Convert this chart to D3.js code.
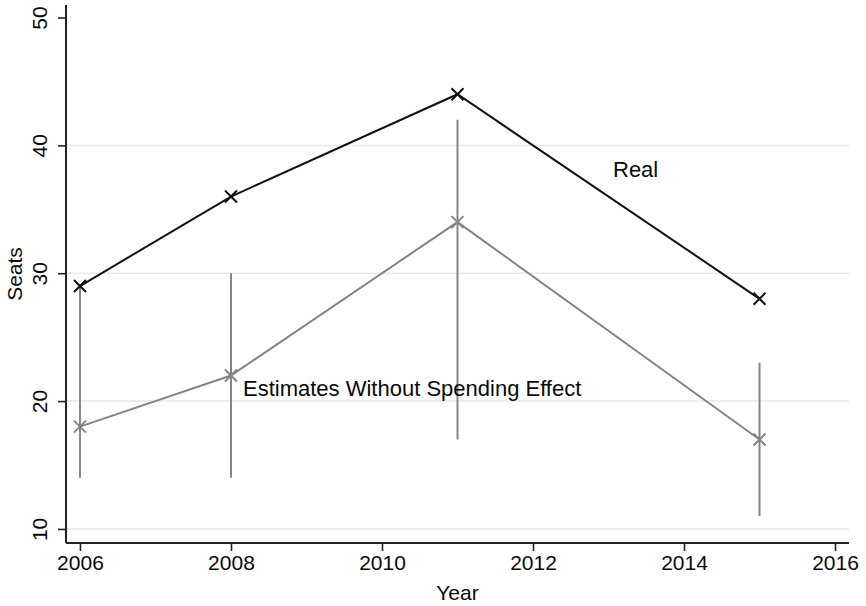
<!DOCTYPE html>
<html>
<head>
<meta charset="utf-8">
<script src="https://cdn.jsdelivr.net/npm/d3@7"></script>
<style>
  html, body { margin: 0; padding: 0; background: #fff; }
  svg { display: block; font-family: "Liberation Sans", Arial, Helvetica, sans-serif; }
</style>
</head>
<body>
<svg id="chart" width="866" height="606"></svg>
<script>
// Election years
const years = [2006, 2008, 2011, 2015];
// Seats actually won
const realSeats = [29, 36, 44, 28];
// Counterfactual estimates with their confidence interval bounds
const estSeats = [18, 22, 34, 17];
const estLower = [14, 14, 17, 11];
const estUpper = [29, 30, 42, 23];
// Axis ticks
const xTicks = [2006, 2008, 2010, 2012, 2014, 2016];
const yTicks = [10, 20, 30, 40, 50];
const gridTicks = [10, 20, 30, 40];

const svg = d3.select("#chart");
const plotLeft = 66, plotRight = 849, plotTop = 5, plotBottom = 543;

const x = d3.scaleLinear().domain([2005.815, 2016.185]).range([plotLeft, plotRight]);
const y = d3.scaleLinear().domain([8.9, 50.98]).range([plotBottom, plotTop]);

const fontSize = 21;
const ink = "#0a0a0a";

// Horizontal gridlines
svg.append("g").selectAll("line").data(gridTicks).join("line")
  .attr("x1", plotLeft).attr("x2", plotRight)
  .attr("y1", d => y(d)).attr("y2", d => y(d))
  .attr("stroke", "#e9e9e9").attr("stroke-width", 1.5);

// X axis
const xAxis = svg.append("g")
  .attr("transform", `translate(0,${plotBottom})`)
  .call(d3.axisBottom(x).tickValues(xTicks).tickFormat(d3.format("d")).tickSize(8).tickPadding(4));
xAxis.select(".domain").attr("d", `M${plotLeft},0H${plotRight}`).attr("stroke", "#222").attr("stroke-width", 2);
xAxis.selectAll(".tick line").attr("stroke", "#222").attr("stroke-width", 1.6);
xAxis.selectAll(".tick text").attr("font-size", fontSize).attr("fill", ink)
  .attr("font-family", "Liberation Sans, Arial, sans-serif");

// Y axis with rotated tick labels
const yAxis = svg.append("g")
  .attr("transform", `translate(${plotLeft},0)`)
  .call(d3.axisLeft(y).tickValues(yTicks).tickSize(8).tickPadding(4));
yAxis.select(".domain").attr("d", `M0,${plotTop}V${plotBottom}`).attr("stroke", "#222").attr("stroke-width", 2);
yAxis.selectAll(".tick line").attr("stroke", "#222").attr("stroke-width", 1.6);
yAxis.selectAll(".tick text")
  .attr("font-size", fontSize).attr("fill", ink)
  .attr("font-family", "Liberation Sans, Arial, sans-serif")
  .attr("x", null).attr("dy", null)
  .attr("text-anchor", "middle")
  .attr("transform", "translate(-19,0) rotate(-90)");

// Axis titles
svg.append("text")
  .attr("x", (plotLeft + plotRight) / 2).attr("y", 600)
  .attr("text-anchor", "middle").attr("font-size", fontSize).attr("fill", ink)
  .text("Year");
svg.append("text")
  .attr("transform", `translate(22,${(plotTop + plotBottom) / 2}) rotate(-90)`)
  .attr("text-anchor", "middle").attr("font-size", fontSize).attr("fill", ink)
  .text("Seats");

const grey = "#858585";

// Confidence interval spikes
svg.append("g").selectAll("line").data(years).join("line")
  .attr("x1", d => x(d)).attr("x2", d => x(d))
  .attr("y1", (d, i) => y(estLower[i])).attr("y2", (d, i) => y(estUpper[i]))
  .attr("stroke", grey).attr("stroke-width", 2);

const line = d3.line().x(d => x(d[0])).y(d => y(d[1]));

// Estimates line
svg.append("path")
  .datum(years.map((d, i) => [d, estSeats[i]]))
  .attr("d", line).attr("fill", "none")
  .attr("stroke", grey).attr("stroke-width", 2);

// Real line
svg.append("path")
  .datum(years.map((d, i) => [d, realSeats[i]]))
  .attr("d", line).attr("fill", "none")
  .attr("stroke", "#111").attr("stroke-width", 2);

// X markers
function crosses(data, color) {
  const s = 6;
  svg.append("g").selectAll("path").data(data).join("path")
    .attr("d", d => {
      const cx = x(d[0]), cy = y(d[1]);
      return `M${cx - s},${cy - s}L${cx + s},${cy + s}M${cx - s},${cy + s}L${cx + s},${cy - s}`;
    })
    .attr("stroke", color).attr("stroke-width", 2).attr("fill", "none");
}
crosses(years.map((d, i) => [d, estSeats[i]]), grey);
crosses(years.map((d, i) => [d, realSeats[i]]), "#111");

// Series labels
svg.append("text")
  .attr("x", 613).attr("y", 177)
  .attr("font-size", 22).attr("fill", ink)
  .text("Real");
svg.append("text")
  .attr("x", 243).attr("y", 396)
  .attr("font-size", 22).attr("fill", ink)
  .text("Estimates Without Spending Effect");
</script>
</body>
</html>
